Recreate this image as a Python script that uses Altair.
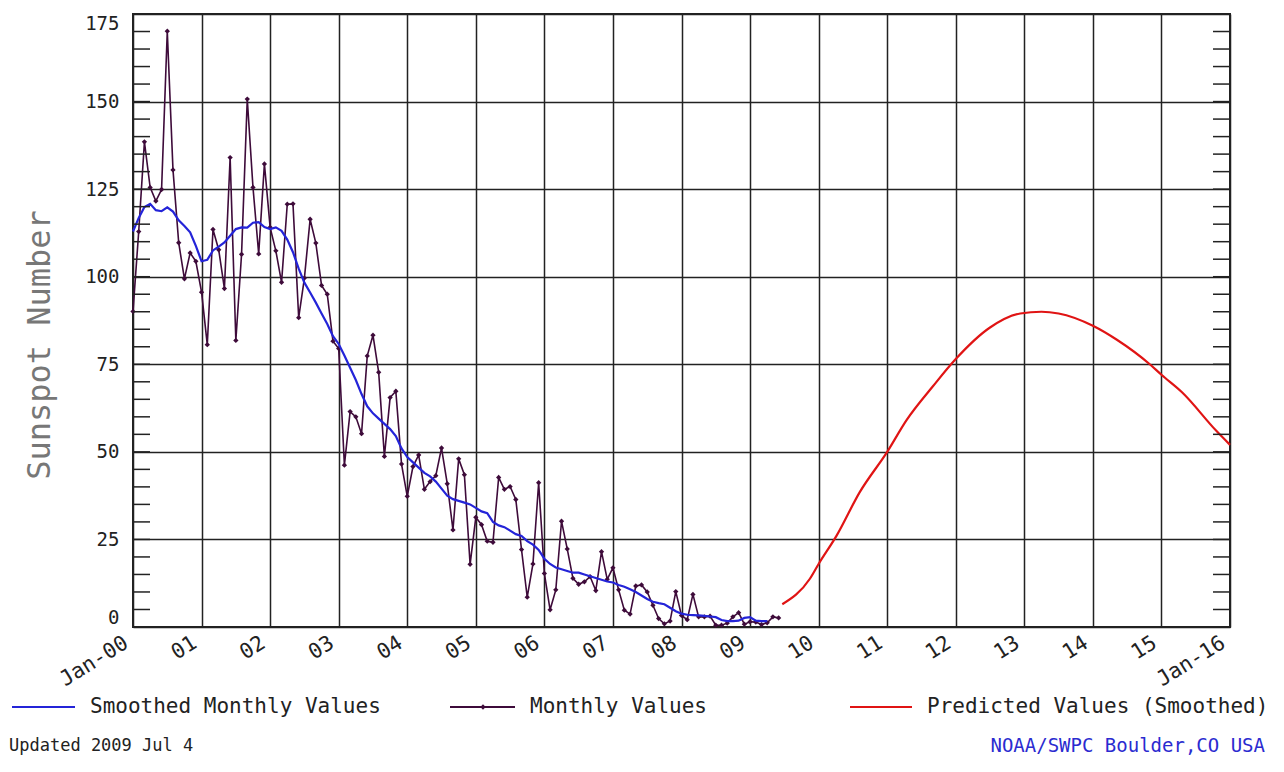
import altair as alt
import pandas as pd

# ---------------- data ----------------
start_year = 2000
monthly_values = [
    # 2000
    90.1, 112.9, 138.5, 125.5, 121.6, 124.9, 170.1, 130.5, 109.7, 99.4, 106.8, 104.4,
    # 2001
    95.6, 80.6, 113.5, 107.7, 96.6, 134.0, 81.8, 106.4, 150.7, 125.5, 106.5, 132.2,
    # 2002
    114.1, 107.4, 98.4, 120.7, 120.8, 88.3, 99.6, 116.4, 109.6, 97.5, 95.0, 81.6,
    # 2003
    79.5, 46.2, 61.5, 60.0, 55.2, 77.4, 83.3, 72.7, 48.7, 65.5, 67.3, 46.5,
    # 2004
    37.3, 45.8, 49.1, 39.3, 41.5, 43.2, 51.1, 40.9, 27.7, 48.0, 43.5, 17.9,
    # 2005
    31.3, 29.2, 24.5, 24.2, 42.7, 39.3, 40.1, 36.4, 22.1, 8.5, 18.0, 41.2,
    # 2006
    15.3, 4.9, 10.6, 30.2, 22.3, 13.9, 12.2, 12.9, 14.4, 10.4, 21.5, 13.6,
    # 2007
    16.9, 10.6, 4.8, 3.7, 11.7, 12.0, 10.0, 6.2, 2.4, 0.9, 1.7, 10.1,
    # 2008
    3.3, 2.1, 9.3, 2.9, 2.9, 3.1, 0.5, 0.5, 1.1, 2.9, 4.1, 0.8,
    # 2009
    1.5, 1.4, 0.7, 1.2, 2.9, 2.6,
]
smoothed_values = [
    112.9, 116.8, 119.9, 120.8, 119.0, 118.7, 119.8, 118.6, 116.1, 114.5, 112.7, 108.8,
    104.4, 104.8, 107.5, 108.6, 109.8, 111.7, 113.6, 114.1, 114.0, 115.4, 115.6, 114.2,
    113.6, 114.1, 113.1, 110.6, 107.0, 102.3, 98.3, 95.5, 92.6, 89.5, 86.5, 83.0,
    80.8, 77.5, 74.0, 70.5, 66.5, 63.0, 61.0, 59.5, 58.0, 56.5, 54.5, 51.0,
    48.5, 47.0, 45.5, 44.0, 43.0, 41.5, 39.5, 37.5, 36.5, 36.0, 35.5, 35.0,
    34.0, 33.0, 32.5, 30.0, 29.0, 28.5, 27.5, 26.5, 26.0, 24.5, 23.5, 22.0,
    19.5, 18.0, 17.0, 16.5, 16.0, 15.5, 15.5, 15.0, 14.5, 14.0, 13.5, 13.0,
    12.7, 12.0, 11.5, 10.8, 10.0, 9.0, 8.0, 7.2, 6.8, 6.5, 5.5, 4.5,
    3.8, 3.5, 3.4, 3.3, 3.2, 3.0, 2.8, 2.0, 1.7, 1.7, 1.8, 2.6,
    2.8, 1.8, 1.7, 1.7,
]
predicted_years = [2009.47, 2009.87, 2010.0, 2010.26, 2010.6, 2011.0, 2011.28, 2011.67,
                   2012.0, 2012.5, 2012.94, 2013.25, 2013.5, 2014.0, 2014.35, 2014.83,
                   2015.0, 2015.3, 2015.8, 2016.0]
predicted_values = [6.5, 13.7, 18.0, 26.0, 38.5, 50.0, 59.0, 68.8,
                    76.5, 85.5, 89.5, 90.0, 89.5, 86.0, 82.0, 75.0,
                    72.0, 67.0, 56.0, 52.0]
x_tick_labels = ["Jan-00", "01", "02", "03", "04", "05", "06", "07", "08",
                 "09", "10", "11", "12", "13", "14", "15", "Jan-16"]
y_tick_values = [0, 25, 50, 75, 100, 125, 150, 175]
minor_tick_values = list(range(0, 176, 5))
legend_labels = ["Smoothed Monthly Values", "Monthly Values", "Predicted Values (Smoothed)"]
footer_left = "Updated 2009 Jul  4"
footer_right = "NOAA/SWPC Boulder,CO USA"
y_title = "Sunspot Number"

# ---------------- tables ----------------
monthly_df = pd.DataFrame({"t": [i / 12 for i in range(len(monthly_values))], "v": monthly_values})
smoothed_df = pd.DataFrame({"t": [i / 12 for i in range(len(smoothed_values))], "v": smoothed_values})
pred_df = pd.DataFrame({"t": [y - start_year for y in predicted_years], "v": predicted_values})
minor_df = pd.DataFrame({"v": minor_tick_values})

W, H = 1097, 613
PAD_TOP = 6
FONT = "DejaVu Sans Mono"
INK = "#222222"
PURPLE = "#3e0b3a"
BLUE = "#2424d8"
RED = "#e01414"

label_js = "[" + ",".join("'" + s + "'" for s in x_tick_labels) + "][datum.value]"

x_scale = alt.Scale(domain=[0, 16], nice=False, zero=False)
y_scale = alt.Scale(domain=[0, 175], nice=False, zero=True)

x_enc = alt.X("t:Q", scale=x_scale, axis=alt.Axis(
    values=list(range(17)), labelExpr=label_js, grid=True, gridColor=INK,
    gridWidth=1.5, gridOpacity=1, ticks=False, domain=False, labelAngle=-32,
    labelAlign="right", labelBaseline="middle", labelPadding=14, labelOffset=-7,
    labelOverlap=False, labelBound=False, labelFlush=False,
    labelFont=FONT, labelFontSize=21, labelColor=INK, title=None))
y_enc = alt.Y("v:Q", scale=y_scale, axis=alt.Axis(
    values=y_tick_values, grid=True, gridColor=INK, gridWidth=1.5, gridOpacity=1,
    ticks=False, domain=False, labelPadding=14, labelFont=FONT, labelFontSize=19,
    labelOverlap=False, labelBound=False, labelFlush=True, labelFlushOffset=0,
    labelColor=INK, title=None))

monthly = alt.Chart(monthly_df).mark_line(
    color=PURPLE, strokeWidth=1.6,
    point=alt.OverlayMarkDef(shape="diamond", size=28, filled=True, color=PURPLE)
).encode(x=x_enc, y=y_enc)

smoothed = alt.Chart(smoothed_df).mark_line(color=BLUE, strokeWidth=2.2).encode(x=x_enc, y=y_enc)
predicted = alt.Chart(pred_df).mark_line(color=RED, strokeWidth=2.2, interpolate="monotone").encode(x=x_enc, y=y_enc)

minor_left = alt.Chart(minor_df).mark_rule(color=INK, strokeWidth=1.5).encode(
    y=y_enc, x=alt.value(0), x2=alt.value(17))
minor_right = alt.Chart(minor_df).mark_rule(color=INK, strokeWidth=1.5).encode(
    y=y_enc, x=alt.value(W - 17), x2=alt.value(W))

one = pd.DataFrame({"k": [0]})

def text_layer(txt, x, y, size=21, color=INK, align="left", angle=0, font=FONT):
    return alt.Chart(pd.DataFrame({"label": [txt]})).mark_text(
        font=font, fontSize=size, color=color, align=align, baseline="middle", angle=angle
    ).encode(text="label:N", x=alt.value(x), y=alt.value(y))

def legend_line(x1, x2, y, color):
    return alt.Chart(one).mark_rule(color=color, strokeWidth=1.8).encode(
        x=alt.value(x1), x2=alt.value(x2), y=alt.value(y))

LY = 693
legend_layers = [
    legend_line(-121, -58, LY, BLUE),
    text_layer(legend_labels[0], -43, LY),
    legend_line(317, 382, LY, PURPLE),
    alt.Chart(one).mark_point(shape="diamond", size=28, filled=True, color=PURPLE, opacity=1).encode(
        x=alt.value(350), y=alt.value(LY)),
    text_layer(legend_labels[1], 397, LY),
    legend_line(717, 779, LY, RED),
    text_layer(legend_labels[2], 794, LY),
    text_layer(footer_left, -124, 732, size=17),
    text_layer(footer_right, 1132, 732, size=19, color="#2b2bd0", align="right"),
    text_layer(y_title, -93, 331, size=32, color="#777777", align="center", angle=270),
]

chart = alt.layer(
    monthly, smoothed, predicted, minor_left, minor_right, *legend_layers
).properties(
    width=W, height=H,
    autosize=alt.AutoSizeParams(type="none"),
    padding={"left": 125, "top": PAD_TOP, "right": 46, "bottom": 133},
    background="white",
).configure_view(stroke=INK, strokeWidth=2)

chart.save("out.html", embed_options={"renderer": "svg", "actions": False})
